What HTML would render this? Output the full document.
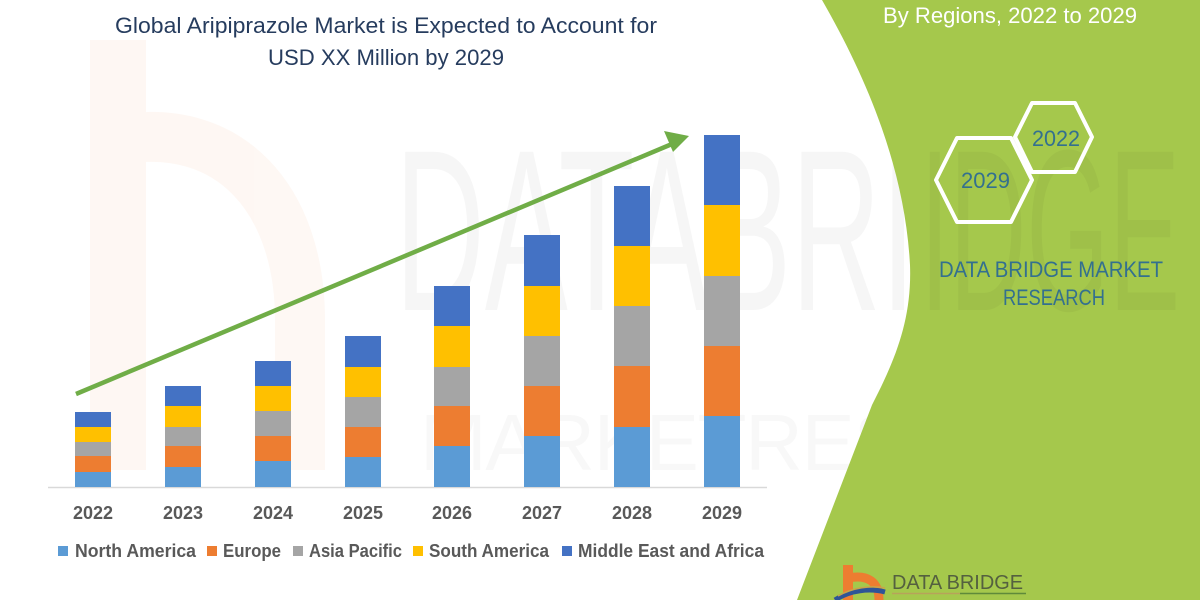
<!DOCTYPE html>
<html>
<head>
<meta charset="utf-8">
<style>
  html,body{margin:0;padding:0;background:#fff;width:1200px;height:600px;overflow:hidden;}
  svg{display:block;overflow:hidden;}
  text{font-family:"Liberation Sans",sans-serif;}
</style>
</head>
<body>
<svg width="1200" height="600" viewBox="0 0 1200 600" xmlns="http://www.w3.org/2000/svg">
  <rect x="0" y="0" width="1200" height="600" fill="#ffffff"/>

  <!-- faint watermark: orange b -->
  <g opacity="0.05" fill="none" stroke="#ed7d31">
    <path d="M118 40 L118 470" stroke-width="56"/>
    <path d="M118 140 C 230 120, 300 200, 300 320 L 300 470" stroke-width="50"/>
  </g>
  <!-- faint watermark letters -->
  <text x="395" y="310" font-size="230" fill="#000" opacity="0.03" textLength="790" lengthAdjust="spacingAndGlyphs">DATABRIDGE</text>
  <text x="420" y="470" font-size="80" fill="#000" opacity="0.025" textLength="760" lengthAdjust="spacing">MARKETRESEARCH</text>

  <!-- green panel -->
  <path d="M822 0 C 868 80, 905 170, 910 265 C 912 320, 895 360, 872 405 L 797 600 L 1200 600 L 1200 0 Z" fill="#a5c84c"/>
  <text x="920" y="310" font-size="230" fill="#000" opacity="0.03" textLength="260" lengthAdjust="spacingAndGlyphs">IDGE</text>

  <!-- title -->
  <text x="115" y="33" font-size="22" fill="#263c5e" textLength="542" lengthAdjust="spacingAndGlyphs">Global Aripiprazole Market is Expected to Account for</text>
  <text x="268" y="65" font-size="22" fill="#263c5e" textLength="236" lengthAdjust="spacingAndGlyphs">USD XX Million by 2029</text>

  <!-- right panel header -->
  <text x="883" y="23" font-size="22" fill="#ffffff" textLength="254" lengthAdjust="spacingAndGlyphs">By Regions, 2022 to 2029</text>

  <!-- hexagons -->
  <polygon points="1015,137 1032,103 1075,103 1092,137 1075,172 1032,172" fill="none" stroke="#ffffff" stroke-width="4" stroke-linejoin="round"/>
  <polygon points="936,180 957,138 1011,138 1032,180 1011,222 957,222" fill="none" stroke="#ffffff" stroke-width="4" stroke-linejoin="round"/>
  <text x="1032" y="146" font-size="22" fill="#33708f" textLength="48" lengthAdjust="spacingAndGlyphs">2022</text>
  <text x="961" y="188" font-size="22" fill="#33708f" textLength="49" lengthAdjust="spacingAndGlyphs">2029</text>

  <text x="939" y="277" font-size="22" fill="#33708f" textLength="224" lengthAdjust="spacingAndGlyphs">DATA BRIDGE MARKET</text>
  <text x="1003" y="305" font-size="22" fill="#33708f" textLength="102" lengthAdjust="spacingAndGlyphs">RESEARCH</text>

  <!-- axis line -->
  <line x1="48" y1="487.5" x2="767" y2="487.5" stroke="#d9d9d9" stroke-width="1.5"/>

  <!-- bars -->
  <g>
    <rect x="75" y="472" width="36" height="15" fill="#5b9bd5"/>
    <rect x="75" y="456" width="36" height="16" fill="#ed7d31"/>
    <rect x="75" y="442" width="36" height="14" fill="#a5a5a5"/>
    <rect x="75" y="427" width="36" height="15" fill="#ffc000"/>
    <rect x="75" y="412" width="36" height="15" fill="#4472c4"/>

    <rect x="165" y="467" width="36" height="20" fill="#5b9bd5"/>
    <rect x="165" y="446" width="36" height="21" fill="#ed7d31"/>
    <rect x="165" y="427" width="36" height="19" fill="#a5a5a5"/>
    <rect x="165" y="406" width="36" height="21" fill="#ffc000"/>
    <rect x="165" y="386" width="36" height="20" fill="#4472c4"/>

    <rect x="255" y="461" width="36" height="26" fill="#5b9bd5"/>
    <rect x="255" y="436" width="36" height="25" fill="#ed7d31"/>
    <rect x="255" y="411" width="36" height="25" fill="#a5a5a5"/>
    <rect x="255" y="386" width="36" height="25" fill="#ffc000"/>
    <rect x="255" y="361" width="36" height="25" fill="#4472c4"/>

    <rect x="345" y="457" width="36" height="30" fill="#5b9bd5"/>
    <rect x="345" y="427" width="36" height="30" fill="#ed7d31"/>
    <rect x="345" y="397" width="36" height="30" fill="#a5a5a5"/>
    <rect x="345" y="367" width="36" height="30" fill="#ffc000"/>
    <rect x="345" y="336" width="36" height="31" fill="#4472c4"/>

    <rect x="434" y="446" width="36" height="41" fill="#5b9bd5"/>
    <rect x="434" y="406" width="36" height="40" fill="#ed7d31"/>
    <rect x="434" y="367" width="36" height="39" fill="#a5a5a5"/>
    <rect x="434" y="326" width="36" height="41" fill="#ffc000"/>
    <rect x="434" y="286" width="36" height="40" fill="#4472c4"/>

    <rect x="524" y="436" width="36" height="51" fill="#5b9bd5"/>
    <rect x="524" y="386" width="36" height="50" fill="#ed7d31"/>
    <rect x="524" y="336" width="36" height="50" fill="#a5a5a5"/>
    <rect x="524" y="286" width="36" height="50" fill="#ffc000"/>
    <rect x="524" y="235" width="36" height="51" fill="#4472c4"/>

    <rect x="614" y="427" width="36" height="60" fill="#5b9bd5"/>
    <rect x="614" y="366" width="36" height="61" fill="#ed7d31"/>
    <rect x="614" y="306" width="36" height="60" fill="#a5a5a5"/>
    <rect x="614" y="246" width="36" height="60" fill="#ffc000"/>
    <rect x="614" y="186" width="36" height="60" fill="#4472c4"/>

    <rect x="704" y="416" width="36" height="71" fill="#5b9bd5"/>
    <rect x="704" y="346" width="36" height="70" fill="#ed7d31"/>
    <rect x="704" y="276" width="36" height="70" fill="#a5a5a5"/>
    <rect x="704" y="205" width="36" height="71" fill="#ffc000"/>
    <rect x="704" y="135" width="36" height="70" fill="#4472c4"/>
  </g>

  <!-- arrow -->
  <line x1="76" y1="394" x2="672" y2="144" stroke="#70ad47" stroke-width="4.5"/>
  <polygon points="689,136 664,131 673,152" fill="#70ad47"/>

  <!-- year labels -->
  <g font-size="18" font-weight="bold" fill="#595959" text-anchor="middle">
    <text x="93" y="519">2022</text>
    <text x="183" y="519">2023</text>
    <text x="273" y="519">2024</text>
    <text x="363" y="519">2025</text>
    <text x="452" y="519">2026</text>
    <text x="542" y="519">2027</text>
    <text x="632" y="519">2028</text>
    <text x="722" y="519">2029</text>
  </g>

  <!-- legend -->
  <g font-size="18" font-weight="bold" fill="#595959">
    <rect x="58" y="546" width="10" height="10" fill="#5b9bd5"/>
    <text x="75" y="557" textLength="121" lengthAdjust="spacingAndGlyphs">North America</text>
    <rect x="207" y="546" width="10" height="10" fill="#ed7d31"/>
    <text x="223" y="557" textLength="58" lengthAdjust="spacingAndGlyphs">Europe</text>
    <rect x="293" y="546" width="10" height="10" fill="#a5a5a5"/>
    <text x="309" y="557" textLength="93" lengthAdjust="spacingAndGlyphs">Asia Pacific</text>
    <rect x="413" y="546" width="10" height="10" fill="#ffc000"/>
    <text x="429" y="557" textLength="120" lengthAdjust="spacingAndGlyphs">South America</text>
    <rect x="562" y="546" width="10" height="10" fill="#4472c4"/>
    <text x="578" y="557" textLength="186" lengthAdjust="spacingAndGlyphs">Middle East and Africa</text>
  </g>

  <!-- bottom logo -->
  <g>
    <rect x="843" y="565" width="10" height="35" fill="#ed7d31"/>
    <path d="M848 578 C 868 574, 879 582, 879 600" fill="none" stroke="#ed7d31" stroke-width="9"/>
    <path d="M835 600 C 850 590, 870 588, 885 592" fill="none" stroke="#2e5597" stroke-width="5"/>
    <path d="M838 596 C 852 588, 870 585, 885 588" fill="none" stroke="#c9a34a" stroke-width="1.5"/>
    <text x="892" y="589" font-size="20" fill="#54603f" textLength="131" lengthAdjust="spacingAndGlyphs">DATA BRIDGE</text>
    <line x1="892" y1="593.5" x2="960" y2="593.5" stroke="#b7a35a" stroke-width="1.5"/>
    <line x1="960" y1="593.5" x2="1026" y2="593.5" stroke="#5f8a3a" stroke-width="1.5"/>
  </g>
</svg>
</body>
</html>
